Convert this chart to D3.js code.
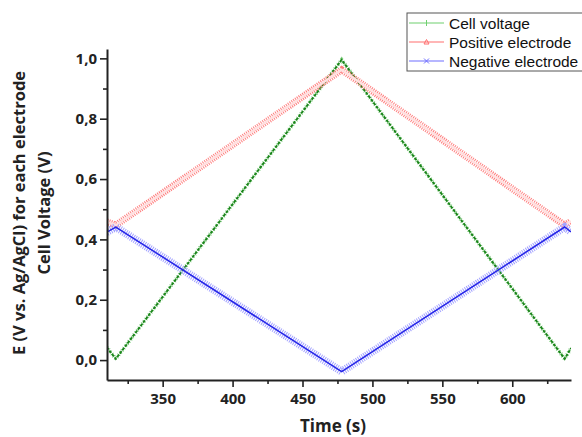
<!DOCTYPE html>
<html>
<head>
<meta charset="utf-8">
<script src="https://cdn.jsdelivr.net/npm/d3@7"></script>
<style>
  body { margin: 0; background: #fff; }
  svg { display: block; }
</style>
</head>
<body>
<script>
// breakpoints of the triangular sweep
const time = [310, 316.5, 478, 637.5, 642];
const cellVoltage = [0.043, 0.004, 0.995, 0.004, 0.04];
const positiveElectrode = [0.458, 0.447, 0.962, 0.447, 0.46];
const negativeElectrode = [0.424, 0.441, -0.038, 0.441, 0.425];

const seriesNames = ['Cell voltage', 'Positive electrode', 'Negative electrode'];
const xTicks = [350, 400, 450, 500, 550, 600];
const yTicks = [0, 0.2, 0.4, 0.6, 0.8, 1.0];

const width = 582, height = 437;
const margin = { top: 49, right: 11, bottom: 57, left: 107 };

const svg = d3.select('body').append('svg')
  .attr('width', width)
  .attr('height', height);

svg.append('rect').attr('width', width).attr('height', height).attr('fill', '#fff');

const x = d3.scaleLinear().domain([310.2, 642]).range([margin.left, width - margin.right]);
const y = d3.scaleLinear().domain([-0.066, 1.031]).range([height - margin.bottom, margin.top]);

svg.append('clipPath').attr('id', 'plot')
  .append('rect')
  .attr('x', margin.left).attr('y', margin.top)
  .attr('width', width - margin.left - margin.right)
  .attr('height', height - margin.top - margin.bottom);

const plot = svg.append('g').attr('clip-path', 'url(#plot)');

const series = [
  { name: seriesNames[0], values: cellVoltage },
  { name: seriesNames[1], values: positiveElectrode },
  { name: seriesNames[2], values: negativeElectrode }
];

const line = d3.line()
  .x((d, i) => x(time[i]))
  .y((d) => y(d));

// dense markers are faked with dashed bands under each line
const styles = {
  'Cell voltage': [
    { stroke: '#7fcf7f', width: 4, dash: '0.8,2' },
    { stroke: '#1b851b', width: 2, dash: '3,1.3' }
  ],
  'Positive electrode': [
    { stroke: '#ff7d7d', width: 7, dash: '1,1.2' },
    { stroke: '#ffe0e0', width: 2.4, dash: null }
  ],
  'Negative electrode': [
    { stroke: '#a3a3ff', width: 8, dash: '1,1.2' },
    { stroke: '#2424e8', width: 1.5, dash: null }
  ]
};

series.forEach((s) => {
  styles[s.name].forEach((st) => {
    plot.append('path')
      .datum(s.values)
      .attr('d', line)
      .attr('fill', 'none')
      .attr('stroke', st.stroke)
      .attr('stroke-width', st.width)
      .attr('stroke-dasharray', st.dash);
  });
});

// axes
const fmt = (v) => d3.format('.1f')(v).replace('.', ',');

svg.append('g')
  .attr('transform', `translate(0,${height - margin.bottom})`)
  .call(d3.axisBottom(x).tickValues(xTicks).tickSize(7).tickSizeOuter(0).tickPadding(6));

svg.append('g')
  .attr('transform', `translate(0,${height - margin.bottom})`)
  .call(d3.axisBottom(x).tickValues(d3.range(325, 642, 50)).tickSize(4).tickFormat(''))
  .call((g) => g.select('.domain').remove());

svg.append('g')
  .attr('transform', `translate(${margin.left},0)`)
  .call(d3.axisLeft(y).tickValues(yTicks).tickFormat(fmt).tickSize(7).tickSizeOuter(0).tickPadding(3));

svg.append('g')
  .attr('transform', `translate(${margin.left},0)`)
  .call(d3.axisLeft(y).tickValues([0.1, 0.3, 0.5, 0.7, 0.9]).tickSize(4).tickFormat(''))
  .call((g) => g.select('.domain').remove());

svg.selectAll('.domain').attr('stroke', '#222').attr('stroke-width', 2);
svg.selectAll('.tick line').attr('stroke', '#222').attr('stroke-width', 1.6);
svg.selectAll('.tick text')
  .attr('fill', '#222')
  .style('font-family', '"Open Sans", sans-serif')
  .style('font-weight', 'bold')
  .style('font-size', '15px');

// axis titles
svg.append('text')
  .attr('x', 333).attr('y', 432)
  .attr('text-anchor', 'middle')
  .attr('fill', '#222')
  .style('font-family', '"Open Sans", sans-serif')
  .style('font-weight', 'bold')
  .style('font-size', '17px')
  .text('Time (s)');

const yTitle = svg.append('g')
  .attr('transform', 'translate(0,213) rotate(-90)')
  .attr('fill', '#222')
  .style('font-family', '"Open Sans", sans-serif')
  .style('font-weight', 'bold')
  .style('font-size', '16.5px')
  .attr('text-anchor', 'middle');

yTitle.append('text').attr('x', 0).attr('y', 25).text('E (V vs. Ag/AgCl) for each electrode');
yTitle.append('text').attr('x', 0).attr('y', 50).text('Cell Voltage (V)');

// legend
const legend = svg.append('g').attr('transform', 'translate(407,13)');
legend.append('rect')
  .attr('width', 176).attr('height', 58)
  .attr('fill', '#fff')
  .attr('stroke', '#555')
  .attr('stroke-width', 1);

const legendColors = ['#6fcf6f', '#ff6f6f', '#6f6fff'];
const markers = [
  (g) => g.append('path').attr('d', 'M0,-3V3'),
  (g) => g.append('path').attr('d', 'M-2.5,2L0,-2.5L2.5,2Z').attr('fill', 'none'),
  (g) => g.append('path').attr('d', 'M-2.5,-2.5L2.5,2.5M-2.5,2.5L2.5,-2.5')
];

seriesNames.forEach((name, i) => {
  const row = legend.append('g').attr('transform', `translate(0,${10 + i * 19})`);
  row.append('line')
    .attr('x1', 2).attr('x2', 37)
    .attr('stroke', legendColors[i]).attr('stroke-width', 1.2);
  const m = row.append('g').attr('transform', 'translate(19.5,0)')
    .attr('stroke', legendColors[i]).attr('stroke-width', 1);
  markers[i](m);
  row.append('text')
    .attr('x', 42).attr('y', 5.5)
    .attr('fill', '#111')
    .style('font-family', '"Liberation Sans", Arial, sans-serif')
    .style('font-size', '15.5px')
    .text(name);
});
</script>
</body>
</html>
